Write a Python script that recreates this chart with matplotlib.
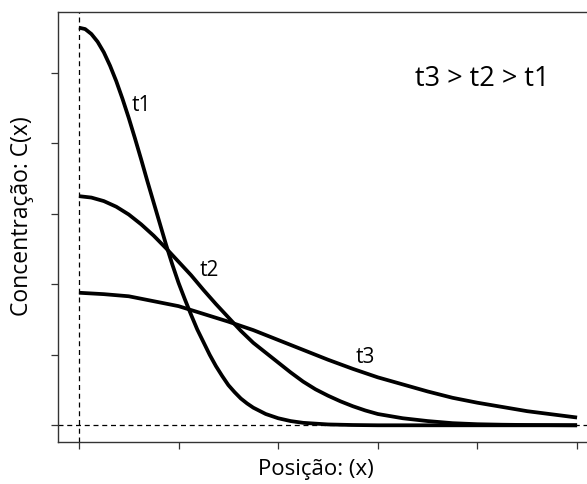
import matplotlib
matplotlib.use("Agg")
import matplotlib.pyplot as plt

# Values
x_t1 = [0, 0.0625, 0.125, 0.1875, 0.25, 0.3125, 0.375, 0.4375, 0.5, 0.5625,
        0.625, 0.6875, 0.75, 0.8125, 0.875, 0.9375, 1.0, 1.0625, 1.125, 1.1875,
        1.25, 1.3125, 1.375, 1.4375, 1.5, 1.5625, 1.625, 1.6875, 1.75, 1.875,
        2.0, 2.125, 2.25, 2.5, 2.75, 3.0, 3.5, 4.0, 4.5, 5.0]
y_t1 = [5.64, 5.62, 5.55, 5.44, 5.29, 5.10, 4.88, 4.63, 4.36, 4.07,
        3.77, 3.46, 3.16, 2.86, 2.56, 2.28, 2.02, 1.79, 1.57, 1.36,
        1.18, 1.00, 0.84, 0.70, 0.57, 0.47, 0.38, 0.31, 0.25, 0.16,
        0.10, 0.06, 0.035, 0.012, 0.004, 0, 0, 0, 0, 0]

x_t2 = [0, 0.125, 0.25, 0.375, 0.5, 0.625, 0.75, 0.875, 1.0, 1.125, 1.25,
        1.375, 1.5, 1.625, 1.75, 1.875, 2.0, 2.125, 2.25, 2.375, 2.5, 2.625,
        2.75, 2.875, 3.0, 3.125, 3.25, 3.5, 3.75, 4.0, 4.25, 4.5, 5.0]
y_t2 = [3.25, 3.23, 3.18, 3.10, 2.99, 2.85, 2.69, 2.51, 2.32, 2.13, 1.92,
        1.72, 1.53, 1.34, 1.17, 1.03, 0.89, 0.75, 0.62, 0.51, 0.42, 0.34,
        0.27, 0.21, 0.16, 0.13, 0.10, 0.06, 0.03, 0.015, 0.008, 0.004, 0.0]

x_t3 = [0, 0.25, 0.5, 0.75, 1.0, 1.25, 1.5, 1.75, 2.0, 2.25, 2.5, 2.75, 3.0,
        3.25, 3.5, 3.75, 4.0, 4.25, 4.5, 4.75, 5.0]
y_t3 = [1.88, 1.86, 1.83, 1.76, 1.69, 1.58, 1.47, 1.35, 1.21, 1.07, 0.93, 0.80,
        0.68, 0.58, 0.48, 0.39, 0.32, 0.26, 0.20, 0.155, 0.11]

ticks = [0, 1, 2, 3, 4, 5]

plt.rcParams['font.family'] = ['Open Sans', 'DejaVu Sans']

fig = plt.figure(figsize=(5.87, 4.84), dpi=100)
W, H = 587, 484
left_px, right_px, top_px, bottom_px = 58, 597, 12, 442
ax = fig.add_axes([left_px / W, 1 - bottom_px / H,
                   (right_px - left_px) / W, (bottom_px - top_px) / H])

ax.axvline(0, color='black', lw=0.9, ls=(0, (4, 3)), zorder=1)
ax.axhline(0, color='black', lw=0.9, ls=(0, (4, 3)), zorder=1)

for xs, ys in [(x_t1, y_t1), (x_t2, y_t2), (x_t3, y_t3)]:
    ax.plot(xs, ys, color='black', lw=2.7, solid_capstyle='butt',
            solid_joinstyle='round', zorder=3)

ax.set_xlim(-0.21, 5.2)
ax.set_ylim(-0.237, 5.862)
ax.set_xticks(ticks)
ax.set_yticks(ticks)
ax.set_xticklabels([])
ax.set_yticklabels([])
ax.tick_params(length=5, width=0.9, color='#333333')
for s in ax.spines.values():
    s.set_color('#333333')
    s.set_linewidth(1.0)

ax.text(0.63, 4.53, 't1', fontsize=15, ha='center', va='center')
ax.text(1.31, 2.20, 't2', fontsize=15, ha='center', va='center')
ax.text(2.87, 0.96, 't3', fontsize=15, ha='center', va='center')
ax.text(4.05, 4.91, 't3 > t2 > t1', fontsize=19.5, ha='center', va='center')

fig.text(316 / W, 1 - 469 / H, 'Posição: (x)', fontsize=16, ha='center', va='center')
fig.text(22 / W, 1 - 216 / H, 'Concentração: C(x)', fontsize=16.5, ha='center',
         va='center', rotation=90)

fig.savefig('out.png', dpi=100)
